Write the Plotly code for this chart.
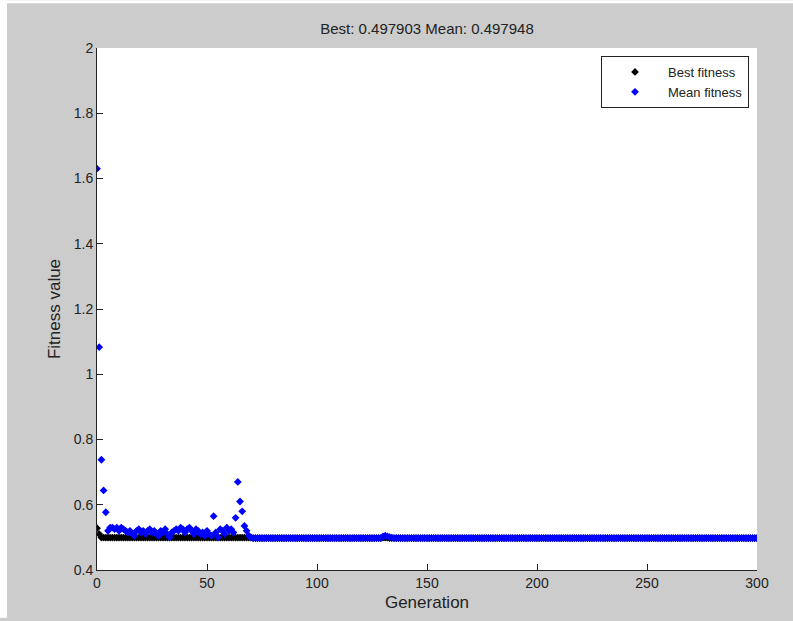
import plotly.graph_objects as go

# Data
mean_early = [1.63, 1.083, 0.738, 0.644, 0.577,
              0.52, 0.53, 0.53, 0.525, 0.53, 0.52, 0.53, 0.525, 0.52, 0.515,
              0.52, 0.51, 0.505, 0.52, 0.525, 0.515, 0.52, 0.51, 0.52, 0.525,
              0.515, 0.52, 0.51, 0.505, 0.52, 0.515, 0.525, 0.51, 0.50, 0.515,
              0.52, 0.525, 0.52, 0.53, 0.525, 0.515, 0.525, 0.53, 0.52, 0.51,
              0.525, 0.52, 0.51, 0.515, 0.505, 0.52, 0.51, 0.505, 0.565, 0.515,
              0.50, 0.525, 0.52, 0.51, 0.53, 0.52, 0.525, 0.515, 0.56, 0.67,
              0.61, 0.58, 0.535, 0.52, 0.505, 0.50]
mean_tail = [
    0.498, 0.498, 0.498, 0.498, 0.498, 0.498, 0.498, 0.498, 0.498, 0.498,
    0.498, 0.498, 0.498, 0.498, 0.498, 0.498, 0.498, 0.498, 0.498, 0.498,
    0.498, 0.498, 0.498, 0.498, 0.498, 0.498, 0.498, 0.498, 0.498, 0.498,
    0.498, 0.498, 0.498, 0.498, 0.498, 0.498, 0.498, 0.498, 0.498, 0.498,
    0.498, 0.498, 0.498, 0.498, 0.498, 0.498, 0.498, 0.498, 0.498, 0.498,
    0.498, 0.498, 0.498, 0.498, 0.498, 0.498, 0.498, 0.498, 0.498, 0.503,
    0.505, 0.503, 0.501, 0.499, 0.498, 0.498, 0.498, 0.498, 0.498, 0.498,
    0.498, 0.498, 0.498, 0.498, 0.498, 0.498, 0.498, 0.498, 0.498, 0.498,
    0.498, 0.498, 0.498, 0.498, 0.498, 0.498, 0.498, 0.498, 0.498, 0.498,
    0.498, 0.498, 0.498, 0.498, 0.498, 0.498, 0.498, 0.498, 0.498, 0.498,
    0.498, 0.498, 0.498, 0.498, 0.498, 0.498, 0.498, 0.498, 0.498, 0.498,
    0.498, 0.498, 0.498, 0.498, 0.498, 0.498, 0.498, 0.498, 0.498, 0.498,
    0.498, 0.498, 0.498, 0.498, 0.498, 0.498, 0.498, 0.498, 0.498, 0.498,
    0.498, 0.498, 0.498, 0.498, 0.498, 0.498, 0.498, 0.498, 0.498, 0.498,
    0.498, 0.498, 0.498, 0.498, 0.498, 0.498, 0.498, 0.498, 0.498, 0.498,
    0.498, 0.498, 0.498, 0.498, 0.498, 0.498, 0.498, 0.498, 0.498, 0.498,
    0.498, 0.498, 0.498, 0.498, 0.498, 0.498, 0.498, 0.498, 0.498, 0.498,
    0.498, 0.498, 0.498, 0.498, 0.498, 0.498, 0.498, 0.498, 0.498, 0.498,
    0.498, 0.498, 0.498, 0.498, 0.498, 0.498, 0.498, 0.498, 0.498, 0.498,
    0.498, 0.498, 0.498, 0.498, 0.498, 0.498, 0.498, 0.498, 0.498, 0.498,
    0.498, 0.498, 0.498, 0.498, 0.498, 0.498, 0.498, 0.498, 0.498, 0.498,
    0.498, 0.498, 0.498, 0.498, 0.498, 0.498, 0.498, 0.498, 0.498, 0.498,
    0.498, 0.498, 0.498, 0.498, 0.498, 0.498, 0.498, 0.498, 0.498, 0.498,
]
mean_fitness = mean_early + mean_tail

best_early = [
    0.528, 0.51, 0.4995, 0.4995, 0.4995,
    0.4995, 0.4995, 0.4995, 0.4995, 0.4995, 0.4995, 0.4995, 0.4995, 0.4995, 0.4995,
    0.4995, 0.4995, 0.4995, 0.4995, 0.4995, 0.4995, 0.4995, 0.4995, 0.4995, 0.4995,
    0.4995, 0.4995, 0.4995, 0.4995, 0.4995, 0.4995, 0.4995, 0.4995, 0.4995, 0.4995,
    0.4995, 0.4995, 0.4995, 0.4995, 0.4995, 0.4995, 0.4995, 0.4995, 0.4995, 0.4995,
    0.4995, 0.4995, 0.4995, 0.4995, 0.4995, 0.4995, 0.4995, 0.4995, 0.4995, 0.4995,
    0.4995, 0.4995, 0.4995, 0.4995, 0.4995, 0.4995, 0.4995, 0.4995, 0.4995, 0.4995,
    0.4995, 0.4995, 0.4995, 0.4995, 0.4995, 0.4995,
]
best_tail = [
    0.4979, 0.4979, 0.4979, 0.4979, 0.4979, 0.4979, 0.4979, 0.4979, 0.4979, 0.4979,
    0.4979, 0.4979, 0.4979, 0.4979, 0.4979, 0.4979, 0.4979, 0.4979, 0.4979, 0.4979,
    0.4979, 0.4979, 0.4979, 0.4979, 0.4979, 0.4979, 0.4979, 0.4979, 0.4979, 0.4979,
    0.4979, 0.4979, 0.4979, 0.4979, 0.4979, 0.4979, 0.4979, 0.4979, 0.4979, 0.4979,
    0.4979, 0.4979, 0.4979, 0.4979, 0.4979, 0.4979, 0.4979, 0.4979, 0.4979, 0.4979,
    0.4979, 0.4979, 0.4979, 0.4979, 0.4979, 0.4979, 0.4979, 0.4979, 0.4979, 0.4990,
    0.4990, 0.4990, 0.4979, 0.4979, 0.4979, 0.4979, 0.4979, 0.4979, 0.4979, 0.4979,
    0.4979, 0.4979, 0.4979, 0.4979, 0.4979, 0.4979, 0.4979, 0.4979, 0.4979, 0.4979,
    0.4979, 0.4979, 0.4979, 0.4979, 0.4979, 0.4979, 0.4979, 0.4979, 0.4979, 0.4979,
    0.4979, 0.4979, 0.4979, 0.4979, 0.4979, 0.4979, 0.4979, 0.4979, 0.4979, 0.4979,
    0.4979, 0.4979, 0.4979, 0.4979, 0.4979, 0.4979, 0.4979, 0.4979, 0.4979, 0.4979,
    0.4979, 0.4979, 0.4979, 0.4979, 0.4979, 0.4979, 0.4979, 0.4979, 0.4979, 0.4979,
    0.4979, 0.4979, 0.4979, 0.4979, 0.4979, 0.4979, 0.4979, 0.4979, 0.4979, 0.4979,
    0.4979, 0.4979, 0.4979, 0.4979, 0.4979, 0.4979, 0.4979, 0.4979, 0.4979, 0.4979,
    0.4979, 0.4979, 0.4979, 0.4979, 0.4979, 0.4979, 0.4979, 0.4979, 0.4979, 0.4979,
    0.4979, 0.4979, 0.4979, 0.4979, 0.4979, 0.4979, 0.4979, 0.4979, 0.4979, 0.4979,
    0.4979, 0.4979, 0.4979, 0.4979, 0.4979, 0.4979, 0.4979, 0.4979, 0.4979, 0.4979,
    0.4979, 0.4979, 0.4979, 0.4979, 0.4979, 0.4979, 0.4979, 0.4979, 0.4979, 0.4979,
    0.4979, 0.4979, 0.4979, 0.4979, 0.4979, 0.4979, 0.4979, 0.4979, 0.4979, 0.4979,
    0.4979, 0.4979, 0.4979, 0.4979, 0.4979, 0.4979, 0.4979, 0.4979, 0.4979, 0.4979,
    0.4979, 0.4979, 0.4979, 0.4979, 0.4979, 0.4979, 0.4979, 0.4979, 0.4979, 0.4979,
    0.4979, 0.4979, 0.4979, 0.4979, 0.4979, 0.4979, 0.4979, 0.4979, 0.4979, 0.4979,
    0.4979, 0.4979, 0.4979, 0.4979, 0.4979, 0.4979, 0.4979, 0.4979, 0.4979, 0.4979,
]
best_fitness = best_early + best_tail

generations = list(range(len(mean_fitness)))
title_text = "Best: 0.497903 Mean: 0.497948"
x_ticks = [0, 50, 100, 150, 200, 250, 300]
y_ticks = [0.4, 0.6, 0.8, 1.0, 1.2, 1.4, 1.6, 1.8, 2.0]
y_tick_labels = ["0.4", "0.6", "0.8", "1", "1.2", "1.4", "1.6", "1.8", "2"]

FONT = "Liberation Sans, Arial, sans-serif"

fig = go.Figure()
fig.add_trace(go.Scatter(
    x=generations, y=best_fitness, mode="markers", name="Best fitness",
    marker=dict(symbol="diamond", size=6, color="black", line=dict(width=0)),
))
fig.add_trace(go.Scatter(
    x=generations, y=mean_fitness, mode="markers", name="Mean fitness",
    marker=dict(symbol="diamond", size=6, color="#0000ff", line=dict(width=0)),
))

W, H = 793, 621
L, R, T, B = 97, 36, 48, 48
pw, ph = W - L - R, H - T - B

fig.update_layout(
    width=W, height=H,
    margin=dict(l=L, r=R, t=T, b=B),
    paper_bgcolor="#cccccc",
    plot_bgcolor="white",
    font=dict(family=FONT, size=14, color="#222222"),
    title=dict(text=title_text, x=(L + pw / 2) / W, xanchor="center",
               y=1 - 29 / H, yanchor="middle", font=dict(size=15)),
    showlegend=True,
    legend=dict(x=1 - 8 / pw, y=1 - 8 / ph, xanchor="right", yanchor="top",
                bgcolor="white", bordercolor="#222222", borderwidth=1,
                font=dict(size=13), itemwidth=56, tracegroupgap=0),
    xaxis=dict(range=[0, 300], tickvals=x_ticks, ticks="inside", ticklen=6,
               tickcolor="#222222", showline=True, linecolor="#222222", linewidth=1,
               showgrid=False, zeroline=False, mirror=False,
               title=dict(text="Generation", standoff=6)),
    yaxis=dict(range=[0.4, 2.0], tickvals=y_ticks, ticktext=y_tick_labels,
               ticks="inside", ticklen=6, tickcolor="#222222",
               showline=True, linecolor="#222222", linewidth=1,
               showgrid=False, zeroline=False, mirror=False,
               title=dict(text="Fitness value", standoff=8)),
    shapes=[
        dict(type="rect", xref="paper", yref="paper",
             x0=-L / pw, x1=(7 - L) / pw, y0=-B / ph, y1=1 + T / ph,
             fillcolor="white", line=dict(width=0), layer="below"),
        dict(type="rect", xref="paper", yref="paper",
             x0=-L / pw, x1=1 + R / pw, y0=1 + (T - 3) / ph, y1=1 + T / ph,
             fillcolor="white", line=dict(width=0), layer="below"),
    ],
)

fig.write_html("out.html", config={"displayModeBar": False},
               post_script="document.body.style.margin='0';document.body.style.overflow='hidden';")
